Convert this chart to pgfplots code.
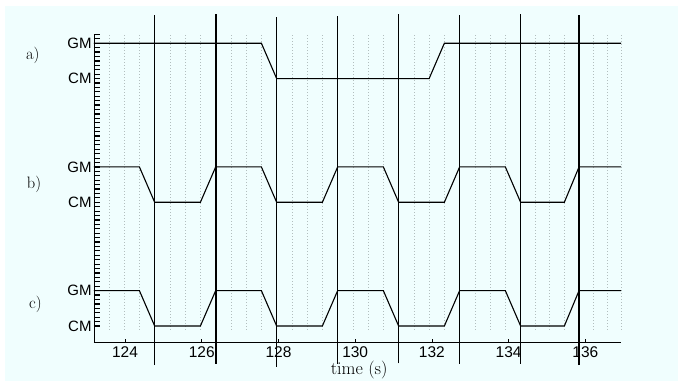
\documentclass[border=0pt]{standalone}
\usepackage{fontspec}
\usepackage{pgfplots}
\pgfplotsset{compat=1.18}
\newfontfamily\hv{Liberation Sans}
\definecolor{bg}{RGB}{240,254,254}
\definecolor{gridc}{RGB}{178,190,190}
\begin{document}
\begin{tikzpicture}
\fill[white] (0pt,0pt) rectangle (678pt,381pt);
\fill[bg] (5pt,0pt) rectangle (678pt,375pt);
\begin{axis}[
  at={(94pt,38.3pt)}, anchor=south west,
  scale only axis, width=527pt, height=308.3pt,
  xmin=123.191, xmax=136.93, ymin=-0.4726, ymax=8.25,
  axis x line*=bottom, axis y line*=left,
  axis line style={-, line width=0.8pt, black},
  clip=false,
  xtick={124,126,...,136},
  ytick={0,1,3.5,4.5,7,8},
  yticklabels={CM,GM,CM,GM,CM,GM},
  minor ytick={0,0.125,...,8.25},
  tick align=inside,
  major tick length=5.5pt, minor tick length=5.5pt,
  xtick style={/pgfplots/major tick length=3.3pt, line width=0.7pt, black},
  ytick style={line width=1.2pt, black},
  minor tick style={line width=1.2pt, black},
  /pgf/number format/assume math mode=true,
  xticklabel style={font=\hv\fontsize{15.5}{18}\selectfont},
  yticklabel style={font=\hv\fontsize{15}{18}\selectfont, inner xsep=2.3pt},
]
% dotted grid
\pgfplotsinvokeforeach{123.580,123.978,124.375,124.773,125.170,125.568,125.965,126.363,126.760,127.158,127.555,127.953,128.350,128.748,129.145,129.543,129.940,130.338,130.735,131.133,131.530,131.928,132.325,132.723,133.120,133.518,133.915,134.313,134.688,135.070,135.453,135.836,136.220,136.580,136.930}{
  \addplot[gridc, dash pattern=on 1pt off 2pt, line width=0.7pt, forget plot] coordinates {(#1,-0.11) (#1,8.25)};
}
% solid vertical markers
\addplot[black, line width=1.2pt] coordinates {(124.764,-1.104) (124.764,8.800)};
\addplot[black, line width=1.2pt] coordinates {(126.374,-1.075) (126.374,8.829)};
\addplot[black, line width=1.2pt] coordinates {(127.958,-1.152) (127.958,8.744)};
\addplot[black, line width=1.2pt] coordinates {(129.549,-1.075) (129.549,8.772)};
\addplot[black, line width=1.2pt] coordinates {(131.130,-1.055) (131.130,8.829)};
\addplot[black, line width=1.2pt] coordinates {(132.722,-1.075) (132.722,8.809)};
\addplot[black, line width=1.2pt] coordinates {(134.305,-1.075) (134.305,8.829)};
\addplot[black, line width=1.2pt] coordinates {(135.836,-1.104) (135.836,8.800)};
% signal a
\addplot[black, line width=1.1pt] coordinates {
  (123.191,8) (127.555,8) (127.953,7) (131.928,7) (132.325,8) (136.93,8)};
% signal b
\addplot[black, line width=1.1pt] coordinates {
  (123.191,4.5) (124.375,4.5) (124.773,3.5) (125.965,3.5) (126.363,4.5)
  (127.555,4.5) (127.953,3.5) (129.145,3.5) (129.543,4.5) (130.735,4.5)
  (131.133,3.5) (132.325,3.5) (132.723,4.5) (133.915,4.5) (134.313,3.5)
  (135.453,3.5) (135.836,4.5) (136.93,4.5)};
% signal c
\addplot[black, line width=1.1pt] coordinates {
  (123.191,1) (124.375,1) (124.773,0) (125.965,0) (126.363,1)
  (127.555,1) (127.953,0) (129.145,0) (129.543,1) (130.735,1)
  (131.133,0) (132.325,0) (132.723,1) (133.915,1) (134.313,0)
  (135.453,0) (135.836,1) (136.93,1)};
\node[anchor=west, inner sep=0pt, font=\fontsize{16.5}{19}\selectfont] at (axis cs:121.417,7.668) {a)};
\node[anchor=west, inner sep=0pt, font=\fontsize{16.5}{19}\selectfont] at (axis cs:121.435,4.018) {b)};
\node[anchor=west, inner sep=0pt, font=\fontsize{16.5}{19}\selectfont] at (axis cs:121.495,0.6225) {c)};
\node[anchor=center, inner sep=0pt, font=\fontsize{18}{21}\selectfont] at (axis cs:130.105,-1.237) {time (s)};
\end{axis}
\pgfresetboundingbox
\path (0pt,0pt) rectangle (678pt,381pt);
\end{tikzpicture}
\end{document}
